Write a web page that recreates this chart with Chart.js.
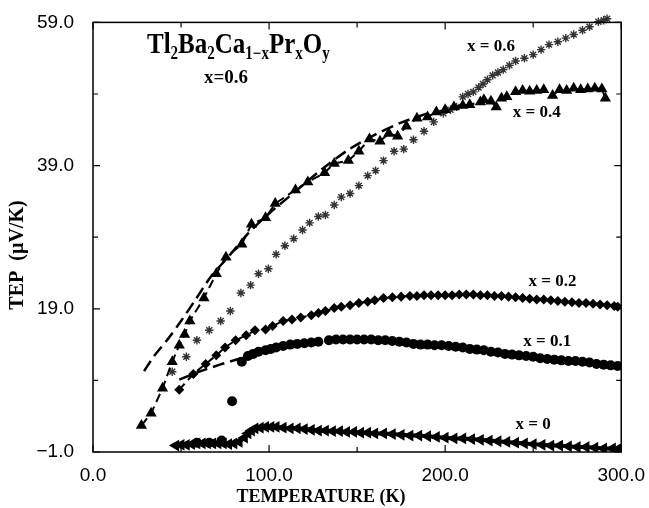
<!DOCTYPE html>
<html>
<head>
<meta charset="utf-8">
<script src="https://cdn.jsdelivr.net/npm/chart.js@4/dist/chart.umd.min.js"></script>
<style>
  html, body { margin: 0; padding: 0; background: #fff; }
</style>
</head>
<body>
<canvas id="tep" width="649" height="508"></canvas>
<script>
// tick labels
const xTicks = [0, 100, 200, 300];
const xMinor = [50, 150, 250];
const yTicks = [-1, 19, 39, 59];
const yMinor = [9, 29, 49];

// x = 0
const t0 = [47, 50, 53, 56, 59, 62, 65, 68, 71, 74, 77, 80, 83, 86, 88, 90, 92, 95, 98, 101, 104, 108, 112, 116, 120, 124, 128, 132, 136, 140, 144, 148, 152, 156, 160, 165, 170, 175, 180, 185, 190, 195, 200, 205, 210, 215, 220, 225, 230, 235, 240, 245, 250, 255, 260, 265, 270, 275, 280, 285, 290, 295, 298];
const s0 = [-0.1, 0.0, 0.0, 0.1, 0.2, 0.2, 0.2, 0.2, 0.2, 0.2, 0.1, 0.2, 0.4, 1.0, 1.6, 2.0, 2.3, 2.4, 2.5, 2.5, 2.5, 2.4, 2.3, 2.3, 2.2, 2.1, 2.0, 2.0, 1.9, 1.9, 1.8, 1.8, 1.7, 1.7, 1.6, 1.6, 1.5, 1.4, 1.3, 1.3, 1.2, 1.1, 1.0, 0.9, 0.9, 0.8, 0.7, 0.6, 0.5, 0.4, 0.3, 0.2, 0.1, 0.0, -0.1, -0.1, -0.2, -0.3, -0.3, -0.4, -0.5, -0.5, -0.6];

// x = 0.1
const t1 = [59, 66, 73, 79, 84.5, 88, 91, 94, 98, 101, 104, 108, 112, 116, 120, 124, 128, 134, 138, 142, 146, 150, 154, 158, 162, 166, 170, 174, 178, 182, 186, 190, 194, 198, 202, 206, 210, 214, 218, 222, 226, 230, 234, 238, 242, 246, 250, 254, 258, 262, 266, 270, 274, 278, 282, 286, 290, 294, 298];
const s1 = [0.3, 0.3, 0.6, 6.1, 11.6, 12.4, 12.7, 13.0, 13.2, 13.4, 13.6, 13.8, 14.0, 14.1, 14.2, 14.3, 14.4, 14.6, 14.7, 14.7, 14.7, 14.7, 14.7, 14.7, 14.6, 14.6, 14.5, 14.4, 14.3, 14.1, 14.0, 14.0, 13.9, 13.9, 13.8, 13.7, 13.6, 13.4, 13.3, 13.2, 13.0, 12.9, 12.7, 12.6, 12.5, 12.4, 12.3, 12.1, 12.0, 11.9, 11.8, 11.7, 11.7, 11.6, 11.5, 11.3, 11.2, 11.1, 11.0];

// x = 0.2
const t2 = [49, 57, 64, 70, 75, 81, 87, 92, 98, 102, 108, 113, 118, 124, 128, 132, 137, 141, 146, 151, 156, 160, 165, 170, 175, 180, 184, 188, 192, 196, 200, 204, 208, 212, 216, 220, 224, 228, 232, 236, 240, 244, 248, 252, 256, 260, 264, 268, 272, 276, 280, 284, 288, 292, 296, 298];
const s2 = [7.7, 9.9, 11.3, 12.5, 13.6, 14.6, 15.3, 16.0, 16.1, 16.6, 17.3, 17.5, 17.8, 18.1, 18.4, 18.7, 19.1, 19.3, 19.5, 19.8, 20.0, 20.2, 20.5, 20.6, 20.7, 20.8, 20.8, 20.9, 20.9, 20.9, 20.9, 20.9, 21.0, 21.0, 21.0, 20.9, 20.9, 20.8, 20.8, 20.7, 20.6, 20.5, 20.4, 20.3, 20.3, 20.2, 20.1, 20.0, 19.9, 19.8, 19.8, 19.7, 19.6, 19.5, 19.4, 19.3];

// x = 0.4
const t4 = [27.5, 33, 39.5, 45, 49, 52, 55, 63, 70, 75.5, 84.5, 90, 98, 103.5, 115, 122, 131.5, 137, 145, 151, 157, 163, 168, 173, 178, 184, 190, 195, 200, 205, 210, 214, 220, 222, 226, 229, 232, 235, 240, 244, 248, 252, 256, 261, 265, 269, 273, 277, 281, 285, 289, 291];
const s4 = [2.7, 4.4, 7.9, 11.6, 13.9, 15.4, 17.3, 20.5, 23.9, 26.2, 28.0, 30.8, 31.7, 33.7, 35.6, 36.7, 38.0, 39.3, 39.7, 41.0, 42.7, 42.4, 43.5, 43.1, 44.5, 45.6, 45.8, 46.5, 46.8, 47.2, 47.4, 47.5, 47.9, 48.2, 48.0, 47.2, 48.4, 48.6, 49.3, 49.5, 49.4, 49.5, 49.6, 48.8, 49.6, 49.5, 49.8, 49.6, 49.7, 49.8, 49.7, 48.4];

// x = 0.6
const t6 = [45, 53, 59, 66, 72.5, 78, 84, 89.5, 94, 99.6, 104, 109, 114, 119, 123, 128, 132, 137, 141, 146, 151, 156, 160.5, 165, 171, 176.5, 182, 188, 193.5, 199, 203, 206.5, 210, 213, 216, 219, 221.5, 224, 227, 230, 233, 236.5, 240, 245, 250, 254.5, 259, 264, 268.5, 273, 278, 282, 287, 290, 292];
const s6 = [10.2, 12.3, 14.6, 16.0, 17.3, 18.7, 21.2, 22.3, 23.9, 24.6, 26.6, 27.8, 28.8, 30.0, 31.0, 31.9, 32.1, 33.5, 34.6, 35.1, 36.2, 37.6, 38.3, 39.7, 41.0, 41.3, 42.6, 43.8, 45.1, 46.3, 46.8, 47.2, 48.6, 49.0, 49.3, 49.9, 50.4, 51.0, 51.6, 52.0, 52.4, 53.0, 53.6, 54.0, 54.5, 55.2, 55.9, 56.3, 56.8, 57.3, 57.9, 58.4, 59.1, 59.3, 59.5];

// dashed fit curves
const tFitA = [29, 35, 42, 50, 58, 67, 77, 88, 100, 115, 130, 145, 160, 175, 190];
const sFitA = [10.3, 12.5, 14.6, 17.3, 20.2, 23.5, 26.3, 29.5, 32.3, 35.4, 38.5, 41.2, 43.3, 45.0, 46.3];
const tFitB = [49, 60, 72, 84];
const sFitB = [9.1, 10.2, 11.2, 12.1];

// series labels [text, T, S]
const seriesLabels = [
  ['x = 0.6', 226, 55.6],
  ['x = 0.4', 252, 46.4],
  ['x = 0.2', 261, 22.8],
  ['x = 0.1', 258, 14.4],
  ['x = 0', 250, 2.8]
];

const pts = (t, s) => t.map((v, i) => ({x: v, y: s[i]}));

const serif = 'bold %spx "Liberation Serif", "Times New Roman", serif';
const fnt = n => serif.replace('%s', n);

const decor = {
  id: 'decor',
  afterDraw(chart) {
    const {ctx, chartArea: a, scales: {x, y}} = chart;
    ctx.save();
    ctx.strokeStyle = '#000';
    ctx.lineWidth = 1.5;
    ctx.strokeRect(a.left, a.top, a.right - a.left, a.bottom - a.top);
    ctx.lineWidth = 1.2;
    ctx.beginPath();
    const tk = (vals, len) => {
      vals.forEach(v => {
        const px = x.getPixelForValue(v);
        ctx.moveTo(px, a.bottom); ctx.lineTo(px, a.bottom - len);
        ctx.moveTo(px, a.top); ctx.lineTo(px, a.top + len);
      });
    };
    const tky = (vals, len) => {
      vals.forEach(v => {
        const py = y.getPixelForValue(v);
        ctx.moveTo(a.left, py); ctx.lineTo(a.left + len, py);
        ctx.moveTo(a.right, py); ctx.lineTo(a.right - len, py);
      });
    };
    tk(xTicks, 7); tk(xMinor, 5);
    tky(yTicks, 7); tky(yMinor, 5);
    ctx.stroke();

    ctx.fillStyle = '#000';
    ctx.textAlign = 'center';
    ctx.textBaseline = 'middle';
    ctx.font = fnt(17);
    seriesLabels.forEach(([txt, t, s]) => {
      ctx.fillText(txt, x.getPixelForValue(t), y.getPixelForValue(s));
    });

    // axis titles
    ctx.font = fnt(18);
    ctx.fillText('TEMPERATURE (K)', 321, 497);
    ctx.save();
    ctx.translate(18, 255);
    ctx.rotate(-Math.PI / 2);
    ctx.font = fnt(20);
    ctx.fillText('TEP  (\u00b5V/K)', 0, 0);
    ctx.restore();

    // compound formula
    const parts = [['Tl', 0], ['2', 1], ['Ba', 0], ['2', 1], ['Ca', 0], ['1\u2212x', 1], ['Pr', 0], ['x', 1], ['O', 0], ['y', 1]];
    ctx.save();
    ctx.translate(147, 53);
    ctx.scale(1, 1.2);
    ctx.textAlign = 'left';
    ctx.textBaseline = 'alphabetic';
    let cx = 0;
    parts.forEach(([txt, sub]) => {
      ctx.font = sub ? fnt(15) : fnt(25);
      ctx.fillText(txt, cx, sub ? 5 : 0);
      cx += ctx.measureText(txt).width;
    });
    ctx.restore();
    ctx.textAlign = 'center';
    ctx.font = fnt(19);
    ctx.fillText('x=0.6', 226, 78);
    ctx.restore();
  }
};

new Chart(document.getElementById('tep').getContext('2d'), {
  type: 'scatter',
  data: {
    datasets: [
      {data: pts(t0, s0), showLine: true, borderColor: '#000', borderWidth: 4, pointStyle: 'triangle', rotation: -90, pointRadius: 2.8, backgroundColor: '#000'},
      {data: pts(t1, s1), pointStyle: 'circle', pointRadius: 5, backgroundColor: '#000', borderColor: '#000', borderWidth: 0},
      {data: pts(t2, s2), showLine: true, borderDash: [8, 5], borderWidth: 2, pointStyle: 'rectRot', pointRadius: 3.6, backgroundColor: '#000', borderColor: '#000'},
      {data: pts(tFitB, sFitB), showLine: true, borderDash: [12, 6], borderWidth: 2.5, borderColor: '#000', pointRadius: 0},
      {data: pts(t4, s4), showLine: true, borderDash: [9, 5], borderWidth: 2, pointStyle: 'triangle', pointRadius: 4.5, backgroundColor: '#000', borderColor: '#000'},
      {data: pts(tFitA, sFitA), showLine: true, borderDash: [12, 6], borderWidth: 2.5, borderColor: '#000', pointRadius: 0, tension: 0.3},
      {data: pts(t6, s6), pointStyle: 'star', pointRadius: 4.2, borderWidth: 1.4, borderColor: '#333', backgroundColor: '#333', clip: false}
    ]
  },
  options: {
    responsive: false,
    animation: false,
    layout: {padding: {left: 0, top: 14, right: 23, bottom: 0}},
    plugins: {legend: {display: false}, tooltip: {enabled: false}},
    scales: {
      x: {
        min: 0, max: 300,
        afterBuildTicks: s => { s.ticks = xTicks.map(v => ({value: v})); },
        afterFit: s => { s.height = 56; },
        grid: {display: false},
        border: {display: false},
        ticks: {padding: 4, color: '#000', font: {size: 19, family: '"Liberation Sans", Arial, sans-serif'}, maxRotation: 0,
          callback: v => v.toFixed(1)}
      },
      y: {
        min: -1, max: 59,
        afterBuildTicks: s => { s.ticks = yTicks.map(v => ({value: v})); },
        afterFit: s => { s.width = 93; },
        grid: {display: false},
        border: {display: false},
        ticks: {padding: 11, color: '#000', font: {size: 19, family: '"Liberation Sans", Arial, sans-serif'},
          callback: v => (v < 0 ? '\u2212' + Math.abs(v).toFixed(1) : v.toFixed(1))}
      }
    }
  },
  plugins: [decor]
});
</script>
</body>
</html>
